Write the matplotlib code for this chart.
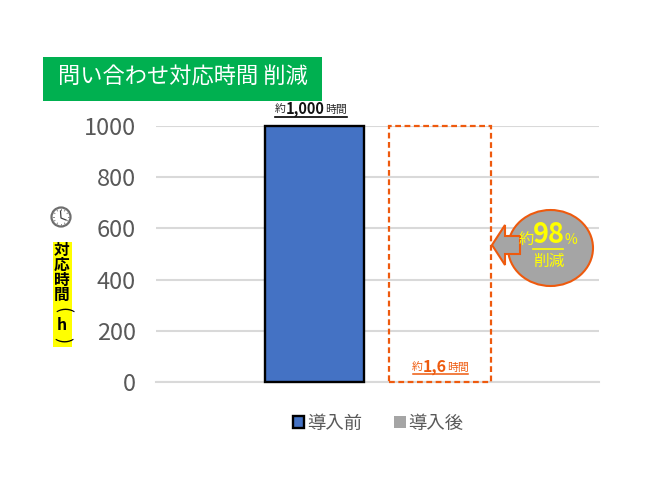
import matplotlib
matplotlib.use("Agg")
import numpy as np
import matplotlib.pyplot as plt
from matplotlib.patches import Rectangle, Ellipse, Polygon, Circle

plt.rcParams["font.family"] = ["Noto Sans CJK JP", "DejaVu Sans"]

series_names = ["導入前", "導入後"]
positions = [0, 1]
values = [1000, 1.6]
target_box = 1000
y_ticks = [0, 200, 400, 600, 800, 1000]

W, H = 650, 488
BLUE = "#4472C4"
GRAY = "#A5A5A5"
ORANGE = "#EE5A0E"
TICK_GRAY = "#595959"

fig = plt.figure(figsize=(W / 100, H / 100), dpi=100)
# plot area in pixels: x 156-599, y 126-382
ax = fig.add_axes([156 / W, 1 - 382 / H, 443 / W, 256 / H])
ax.set_xlim(-1.263, 2.267)
ax.set_ylim(0, 1000)
ax.set_yticks(y_ticks)
ax.set_xticks([])
ax.tick_params(axis="y", length=0, labelsize=17, labelcolor=TICK_GRAY, pad=14.5)
ax.grid(axis="y", color="#D9D9D9", linewidth=1.5)
ax.set_axisbelow(True)
for s in ax.spines.values():
    s.set_visible(False)
ax.spines["bottom"].set_visible(True)
ax.spines["bottom"].set_color("#D9D9D9")
ax.spines["bottom"].set_linewidth(1.5)
ax.spines["bottom"].set_zorder(0.5)

b1 = ax.bar(positions[0], values[0], width=0.79, color=BLUE, edgecolor="black",
            linewidth=1.7, label=series_names[0], clip_on=False, zorder=3)
b2 = ax.bar(positions[1], values[1], width=0.81, color=GRAY, label=series_names[1], zorder=2)
# dashed outline showing the size of the old value
ax.bar(positions[1], target_box, width=0.81, facecolor="none", edgecolor=ORANGE,
       linewidth=1.6, linestyle=(0, (2.6, 1.6)), clip_on=False, zorder=4)

ax.legend(handles=[b1, b2], loc="center", bbox_to_anchor=(0.502, -0.163), ncol=2, frameon=False,
          fontsize=13.2, labelcolor=TICK_GRAY, handlelength=0.62, handleheight=0.62,
          handletextpad=0.15, columnspacing=1.75)

# overlay in pixel coordinates for the annotations
ov = fig.add_axes([0, 0, 1, 1], zorder=5)
ov.set_xlim(0, W)
ov.set_ylim(H, 0)
ov.axis("off")

# title box
ov.add_patch(Rectangle((43, 57), 279, 44, facecolor="#00B050", edgecolor="none"))
ov.text(182.5, 77, "問い合わせ対応時間 削減", color="white", fontsize=16, ha="center", va="center")

# value labels above/in the bars
ov.text(280, 109.5, "約", fontsize=7.8, ha="center", va="center", color="#262626")
ov.text(305, 109, "1,000", fontsize=10.5, fontweight="bold", ha="center", va="center", color="#111111")
ov.text(336, 109.5, "時間", fontsize=7.8, ha="center", va="center", color="#262626")
ov.plot([275, 347], [117, 117], color="black", lw=1.2)

ov.text(417.5, 367.5, "約", fontsize=7.8, ha="center", va="center", color=ORANGE)
ov.text(435, 367, "1,6", fontsize=11.5, fontweight="bold", ha="center", va="center", color=ORANGE)
ov.text(457.5, 367.5, "時間", fontsize=7.8, ha="center", va="center", color=ORANGE)
ov.plot([413, 468], [374, 374], color=ORANGE, lw=1.1)

# y axis caption with clock icon
ov.add_patch(Circle((61, 217), 9.5, facecolor="white", edgecolor="#6E6E6E", lw=1.6))
for ang in np.arange(0, 360, 30):
    ca, sa = np.cos(np.radians(ang)), np.sin(np.radians(ang))
    ov.plot([61 + 7 * ca, 61 + 8 * ca], [217 + 7 * sa, 217 + 8 * sa], color="#8A8A8A", lw=0.7)
ov.plot([60.5, 61, 66], [211, 218, 220], color="#404040", lw=0.9)

ov.add_patch(Rectangle((52.5, 242), 19.5, 105, facecolor="#FFFF00", edgecolor="none"))
for txt, yy in zip(["対", "応", "時", "間"], [249.5, 265, 280, 295]):
    ov.text(62, yy, txt, fontsize=11.3, fontweight="bold", ha="center", va="center", color="black")
ov.text(62, 310, "(", fontsize=13, ha="center", va="center", rotation=-90, color="black")
ov.text(62, 325, "h", fontsize=11.3, fontweight="bold", ha="center", va="center", color="black")
ov.text(62, 340, ")", fontsize=13, ha="center", va="center", rotation=-90, color="black")

# callout
ov.add_patch(Ellipse((550.5, 248), 85, 76, facecolor=GRAY, edgecolor=ORANGE, lw=1.5))
ov.add_patch(Polygon([(492, 245), (505, 225), (505, 236), (520, 236), (520, 254),
                      (505, 254), (505, 265)], closed=True, facecolor=GRAY, edgecolor=ORANGE, lw=1.5))
ov.text(526, 239, "約", fontsize=11, ha="center", va="center", color="#FFFF00")
ov.text(548.5, 235, "98", fontsize=19.5, fontweight="bold", ha="center", va="center", color="#FFFF00")
ov.text(571, 240, "%", fontsize=10, ha="center", va="center", color="#FFFF00")
ov.plot([533, 563], [249, 249], color="#FFFF00", lw=1.2)
ov.text(549, 261.5, "削減", fontsize=11.3, ha="center", va="center", color="#FFFF00")

fig.savefig("out.png", dpi=100)
